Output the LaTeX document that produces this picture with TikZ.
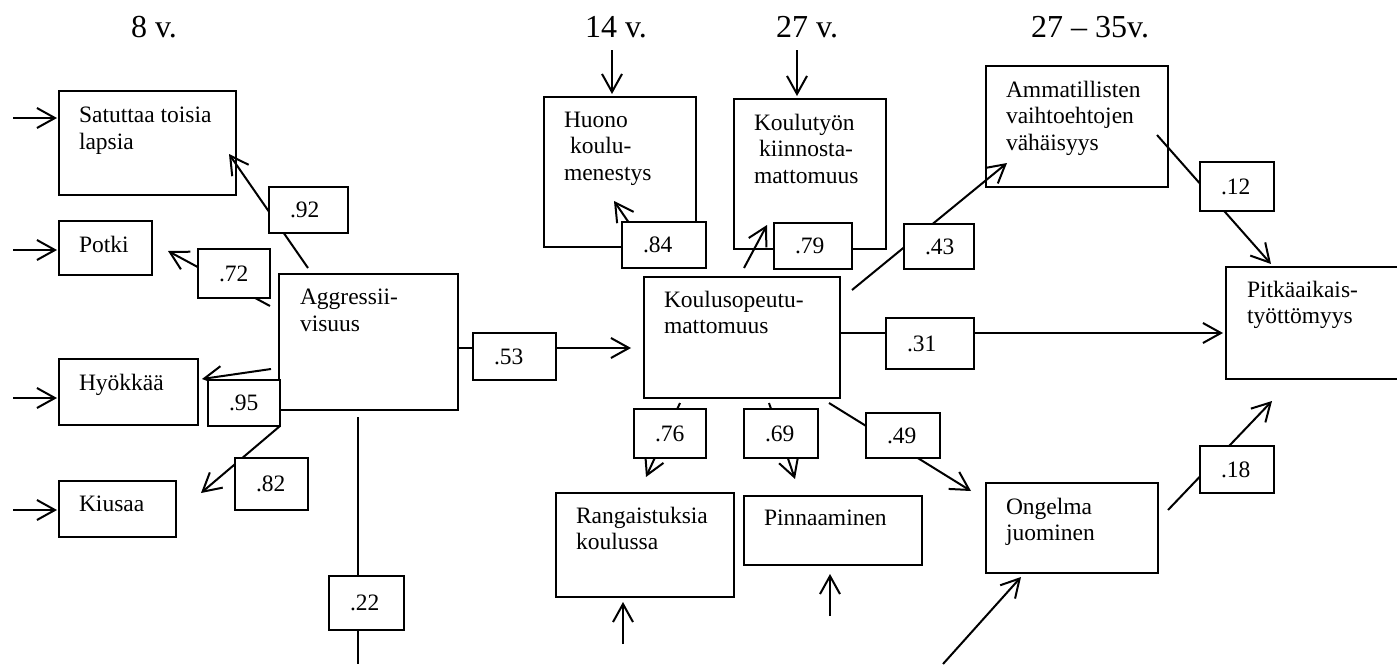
\documentclass[tikz,border=0pt]{standalone}
\usepackage{fontspec}
\setmainfont{Liberation Serif}
\usetikzlibrary{arrows.meta,calc,backgrounds}
\newdimen\px \px=0.5pt
\newcommand\bfs{\fontsize{11.75pt}{13.25pt}\selectfont}
\newcommand\hfs{\fontsize{16pt}{19pt}\selectfont}
\newcommand\bx[5]{\node[box, minimum width={#4*0.5pt}, minimum height={#5*0.5pt}] (#1) at (#2,#3) {};}
\newcommand\lab[6]{\node[lab, minimum width={(#4-#2)*0.5pt}, minimum height={(#5-#3)*0.5pt}] (#1) at (#2,#3) {\makebox[\dimexpr#4\px-#2\px\relax][l]{\hspace{21\px}#6}};}
\begin{document}
\begin{tikzpicture}[x=0.5pt,y=-0.5pt,
  box/.style={draw, line width=0.65pt, anchor=north west, inner sep=0pt, outer sep=0pt},
  txt/.style={anchor=north west, inner sep=0pt, outer sep=0pt, align=left, font=\bfs},
  lab/.style={draw, fill=white, line width=0.65pt, anchor=north west, inner sep=0pt, outer sep=0pt, font=\bfs},
  hdr/.style={anchor=base, inner sep=0pt, font=\hfs},
  arr/.style={line width=1pt, -{Straight Barb[length=9pt,width=10pt]}},
  ln/.style={line width=1pt}]
\useasboundingbox (0,0) rectangle (1397,664);

% headers
\node[hdr] (h8) at (154,38) {8 v.};
\node[hdr] (h14) at (616,38) {14 v.};
\node[hdr] (h27) at (807,38) {27 v.};
\node[hdr] (h35) at (1090,38) {27 – 35v.};

% boxes
\bx{sat}{59}{91}{177}{104}
\bx{pot}{59}{221}{93}{54}
\bx{hyo}{59}{359}{139}{66}
\bx{kiu}{59}{481}{117}{56}
\bx{agg}{279}{274}{179}{136}
\bx{huo}{544}{97}{152}{150}
\bx{kut}{734}{99}{152}{150}
\bx{amm}{986}{66}{182}{121}
\bx{pit}{1226}{267}{200}{112}
\bx{kou}{644}{277}{196}{121}
\bx{ran}{556}{493}{178}{104}
\bx{pin}{744}{496}{178}{69}
\bx{ong}{986}{483}{172}{90}

% box texts
\node[txt] (satT) at (79,107) {Satuttaa toisia\\lapsia};
\node[txt] (potT) at (79,236) {Potki};
\node[txt] (hyoT) at (79,374) {Hyökkää};
\node[txt] (kiuT) at (79,496) {Kiusaa};
\node[txt] (aggT) at (300,289) {Aggressii-\\visuus};
\node[txt] (huoT) at (564,112) {Huono\\\hspace*{3pt}koulu-\\menestys};
\node[txt] (kutT) at (754,114) {Koulutyön\\\hspace*{2.5pt}kiinnosta-\\mattomuus};
\node[txt] (ammT) at (1006,81) {Ammatillisten\\vaihtoehtojen\\vähäisyys};
\node[txt] (pitT) at (1247,281) {Pitkäaikais-\\työttömyys};
\node[txt] (kouT) at (664,291) {Koulusopeutu-\\mattomuus};
\node[txt] (ranT) at (576,507) {Rangaistuksia\\koulussa};
\node[txt] (pinT) at (764,510) {Pinnaaminen};
\node[txt] (ongT) at (1006,498) {Ongelma\\juominen};

% coefficient labels
\lab{l92}{269}{187}{348}{233}{.92}
\lab{l72}{198}{249}{270}{298}{.72}
\lab{l95}{208}{380}{280}{426}{.95}
\lab{l82}{235}{458}{308}{510}{.82}
\lab{l22}{329}{576}{404}{630}{.22}
\lab{l53}{473}{333}{556}{380}{.53}
\lab{l84}{622}{222}{706}{268}{.84}
\lab{l79}{774}{223}{852}{269}{.79}
\lab{l43}{904}{224}{974}{269}{.43}
\lab{l12}{1200}{162}{1274}{211}{.12}
\lab{l31}{886}{318}{974}{369}{.31}
\lab{l76}{634}{409}{706}{458}{.76}
\lab{l69}{744}{409}{818}{458}{.69}
\lab{l49}{866}{413}{940}{458}{.49}
\lab{l18}{1200}{446}{1274}{493}{.18}

% free ends
\coordinate (eSat) at (13,118);
\coordinate (ePot) at (13,250);
\coordinate (eHyo) at (13,398);
\coordinate (eKiu) at (13,510);
\coordinate (eHuo) at (612,50);
\coordinate (eKut) at (797,50);
\coordinate (eRan) at (623,644);
\coordinate (ePin) at (830,616);
\coordinate (eOng) at (943,664);
\coordinate (aggOut) at (358,664);

\begin{scope}[on background layer]
% error inputs
\draw[arr] (eSat) -- ($(sat.north west)+(-2,27)$);
\draw[arr] (ePot) -- ($(pot.north west)+(-2,29)$);
\draw[arr] (eHyo) -- ($(hyo.north west)+(-2,39)$);
\draw[arr] (eKiu) -- ($(kiu.north west)+(-2,29)$);
\draw[arr] (eHuo) -- ($(huo.north west)+(68,-3)$);
\draw[arr] (eKut) -- ($(kut.north west)+(63,-3)$);
\draw[arr] (eRan) -- ($(ran.north west)+(67,109)$);
\draw[arr] (ePin) -- ($(pin.north west)+(86,78)$);
\draw[arr] (eOng) -- ($(ong.north west)+(35,94)$);
% paths
\draw[arr] ($(agg.north west)+(29,-6)$) -- ($(sat.north west)+(170,63)$);
\draw[arr] ($(agg.north west)+(-9,32)$) -- ($(pot.north west)+(109,30)$);
\draw[arr] ($(agg.north west)+(-8,95)$) -- ($(hyo.north west)+(143,20)$);
\draw[arr] ($(agg.north west)+(1,152)$) -- ($(kiu.north west)+(142,12)$);
\draw[arr] ($(agg.north west)+(178,74)$) -- ($(kou.north west)+(-13,71)$);
\draw[ln] ($(agg.north west)+(79,143)$) -- (aggOut);
\draw[arr] ($(kou.north west)+(16,-9)$) -- ($(huo.north west)+(70,104)$);
\draw[arr] ($(kou.north west)+(100,-9)$) -- ($(kut.north west)+(33,126)$);
\draw[arr] ($(kou.north west)+(208,13)$) -- ($(amm.north west)+(21,97)$);
\draw[arr] ($(amm.north west)+(171,69)$) -- ($(pit.north west)+(45,-3)$);
\draw[arr] ($(kou.north west)+(196,56)$) -- ($(pit.north west)+(-3,66)$);
\draw[arr] ($(kou.north west)+(36,126)$) -- ($(ran.north west)+(90,-16)$);
\draw[arr] ($(kou.north west)+(125,126)$) -- ($(pin.north west)+(51,-17)$);
\draw[arr] ($(kou.north west)+(185,126)$) -- ($(ong.north west)+(-15,8)$);
\draw[arr] ($(ong.north west)+(182,27)$) -- ($(pit.north west)+(46,134)$);
\end{scope}
\end{tikzpicture}
\end{document}
